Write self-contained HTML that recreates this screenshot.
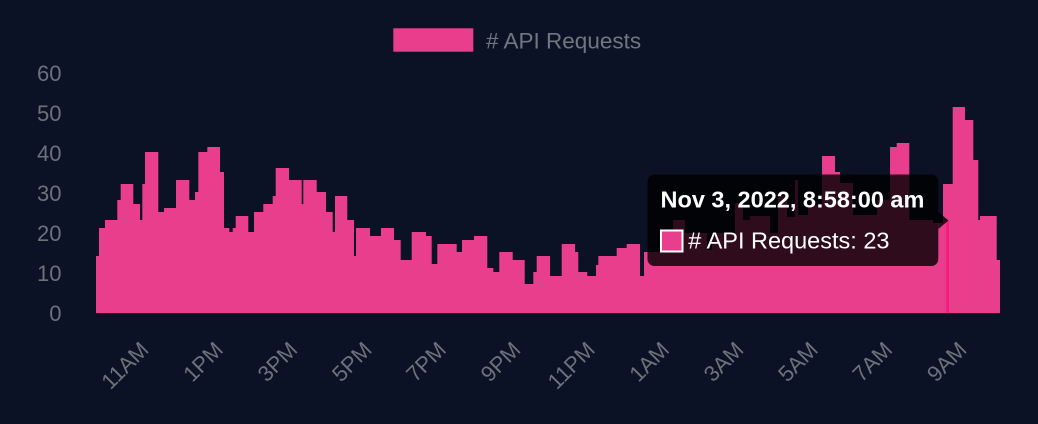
<!DOCTYPE html>
<html>
<head>
<meta charset="utf-8">
<style>
  html, body { margin: 0; padding: 0; background: #0b1226; }
  body { width: 1038px; height: 424px; overflow: hidden; }
  svg { display: block; font-family: "Liberation Sans", Arial, Helvetica, sans-serif; }
</style>
</head>
<body>
<svg width="1038" height="424" viewBox="0 0 1038 424" xmlns="http://www.w3.org/2000/svg">
  <rect x="0" y="0" width="1038" height="424" fill="#0b1226"/>

  <!-- Legend -->
  <rect x="393.3" y="28.3" width="80" height="23.4" fill="#e83e8c"/>
  <text x="486" y="48.3" font-size="22.5" fill="#71767f"># API Requests</text>

  <!-- Y axis labels -->
  <g font-size="22" fill="#6c717a" text-anchor="end">
    <text x="61.5" y="81">60</text>
    <text x="61.5" y="121">50</text>
    <text x="61.5" y="161">40</text>
    <text x="61.5" y="201">30</text>
    <text x="61.5" y="241">20</text>
    <text x="61.5" y="281">10</text>
    <text x="61.5" y="321">0</text>
  </g>

  <!-- Bars silhouette -->
  <path fill="#e83e8c" d="M96,313
    V256 H99 V228 H105 V220 H117.3 V200 H120.7 V184 H133.3 V204 H140 V220 H142.3 V184 H145 V152 H158.3 V212 H164 V208 H176 V180 H189.3 V200 H195 V192 H198.3 V152 H207.3 V147 H220 V172 H224 V228 H229.3 V232 H232.7 V228 H235.7 V216 H248.3 V232 H254 V212 H263.3 V204 H272.7 V196 H275.7 V168 H289 V180 H301.7 V204 H303.3 V180 H316.7 V192 H326 V212 H332.7 V232 H335 V196 H347.3 V220 H354 V256 H356 V228 H370 V236 H381 V228 H394 V240 H400.7 V260 H411.7 V232 H426 V236 H431.7 V264 H437.3 V244 H456.7 V252 H462 V240 H474 V236 H487.3 V268 H493.3 V272 H499.3 V252 H512.7 V260 H524.7 V284 H533.3 V272 H536.7 V256 H550 V276 H561.7 V244 H575 V252 H578.3 V272 H587.3 V276 H596 V265 H598.3 V256 H616.7 V248 H626.7 V244 H640 V276 H644 V252 H673 V220 H685 V233 H707 V250 H712 V233 H735 V203 H743 V220 H750 V216 H770 V233 H778 V196 H787 V217 H795 V180 H798 V215 H808 V205 H822 V156 H835 V172 H840 V183 H853 V215 H877 V200 H890 V147 H896.7 V143 H909.3 V220 H933 V223 H943 V184 H952.7 V107 H965 V120 H973.3 V160 H978.3 V220 H980 V216 H996.7 V260 H1000 V313 Z"/>
  <!-- hovered bar -->
  <rect x="946" y="221" width="3" height="92" fill="#f61e80"/>

  <!-- X axis labels (rotated) -->
  <g font-size="22" fill="#6c717a" text-anchor="end">
    <text x="150" y="351" transform="rotate(-45 150 351)">11AM</text>
    <text x="224.4" y="351" transform="rotate(-45 224.4 351)">1PM</text>
    <text x="298.7" y="351" transform="rotate(-45 298.7 351)">3PM</text>
    <text x="373.1" y="351" transform="rotate(-45 373.1 351)">5PM</text>
    <text x="447.4" y="351" transform="rotate(-45 447.4 351)">7PM</text>
    <text x="521.8" y="351" transform="rotate(-45 521.8 351)">9PM</text>
    <text x="596.2" y="351" transform="rotate(-45 596.2 351)">11PM</text>
    <text x="670.5" y="351" transform="rotate(-45 670.5 351)">1AM</text>
    <text x="744.9" y="351" transform="rotate(-45 744.9 351)">3AM</text>
    <text x="819.2" y="351" transform="rotate(-45 819.2 351)">5AM</text>
    <text x="893.6" y="351" transform="rotate(-45 893.6 351)">7AM</text>
    <text x="968" y="351" transform="rotate(-45 968 351)">9AM</text>
  </g>

  <!-- Tooltip -->
  <g>
    <rect x="647.5" y="174.5" width="290.8" height="91.5" rx="7" ry="7" fill="rgba(0,0,0,0.8)"/>
    <polygon points="938.3,212 948.5,220.5 938.3,229" fill="rgba(0,0,0,0.8)"/>
    <text x="660.5" y="207.5" font-size="23.5" font-weight="bold" fill="#ffffff">Nov 3, 2022, 8:58:00 am</text>
    <rect x="661" y="230.5" width="21.5" height="21" fill="#e83e8c" stroke="#ffffff" stroke-width="2"/>
    <text x="688.3" y="248.5" font-size="23.5" fill="#ffffff"># API Requests: 23</text>
  </g>
</svg>
</body>
</html>
